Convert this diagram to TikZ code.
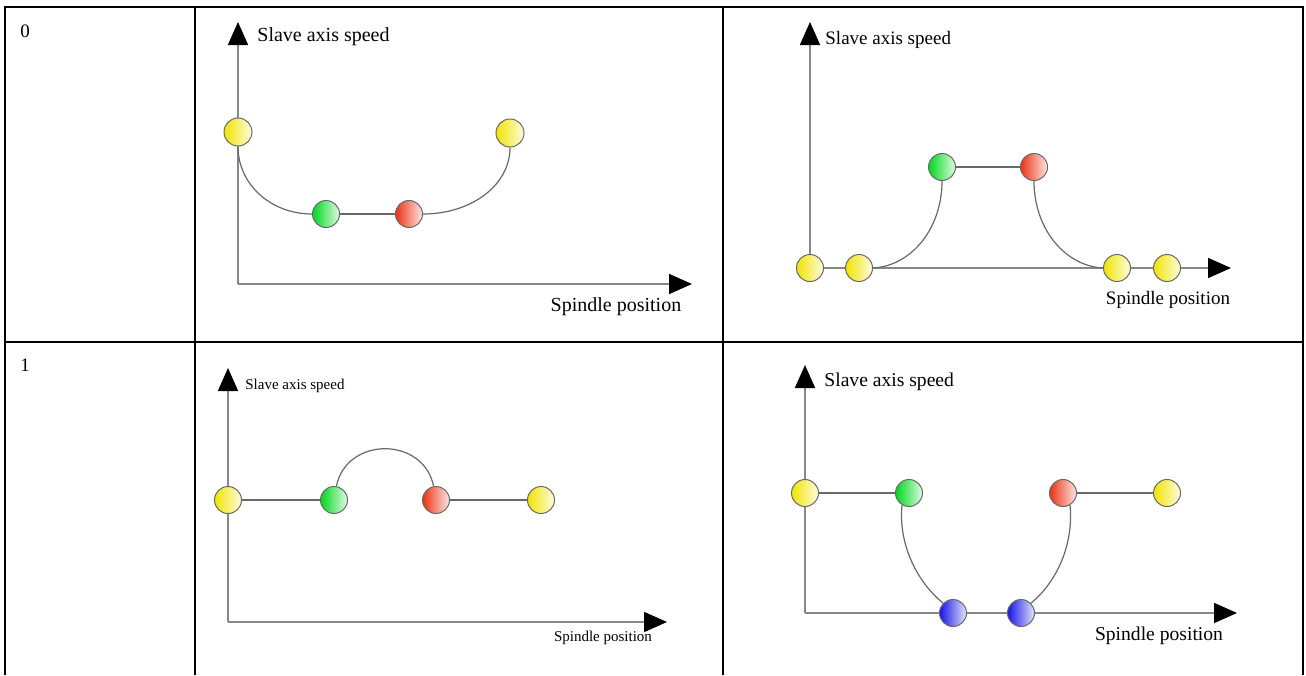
\documentclass[tikz,border=0pt]{standalone}
\usepackage{fontspec}
\setmainfont{Liberation Serif}
\usetikzlibrary{arrows.meta}
\definecolor{BallYellow}{RGB}{240,228,0}
\definecolor{BallGreen}{RGB}{0,215,30}
\definecolor{BallRed}{RGB}{235,50,20}
\definecolor{BallBlue}{RGB}{20,20,230}
\definecolor{AxisGray}{RGB}{135,135,135}
\definecolor{CurveGray}{RGB}{105,105,105}

\begin{document}
\begin{tikzpicture}[x=.5pt,y=-.5pt,
    ball/.style={circle,draw=CurveGray,line width=.5pt,minimum size=13.5pt,
      inner sep=0pt,left color=#1,right color=#1!12},
    axis/.style={AxisGray,line width=.8pt,
      -{Triangle[length=11.5pt,width=10pt,color=black]}},
    link/.style={CurveGray,line width=.6pt},
    lbl/.style={inner sep=0pt,font=\fontsize{#1}{#1}\selectfont},
    grid/.style={black,line width=1.3pt}]
  \useasboundingbox (0,0) rectangle (1306,675);
  % table
  \draw[grid] (5,675) -- (5,7) -- (1303,7) -- (1303,675);
  \draw[grid] (5,342) -- (1303,342);
  \draw[grid] (195,7) -- (195,675);
  \draw[grid] (723,7) -- (723,675);
  \node[lbl=9.5,anchor=west] (row0) at (20,31) {0};
  \node[lbl=9.5,anchor=west] (row1) at (20,365) {1};

  % mode 0, left
  \coordinate (ao) at (238,284);
  \coordinate (aytip) at (238,22);
  \coordinate (axtip) at (692,284);
  \draw[axis] (ao) -- (aytip);
  \draw[axis] (ao) -- (axtip);
  \node[ball=BallYellow,minimum size=14pt] (ay1) at (238,132) {};
  \node[ball=BallGreen] (ag) at (326,214) {};
  \node[ball=BallRed] (ar) at (409,214) {};
  \node[ball=BallYellow,minimum size=14pt] (ay2) at (510,133) {};
  \draw[link] (ay1.south) .. controls +(0,38) and +(-41,0) .. (ag.west);
  \draw[link] (ag) -- (ar);
  \draw[link] (ar.east) .. controls +(48,0) and +(0,38) .. (ay2.south);
  \node[lbl=10,anchor=west] (aylab) at (257,37) {Slave axis speed};
  \node[lbl=10] (axlab) at (616,307) {Spindle position};

  % mode 0, right
  \coordinate (bo) at (810,268);
  \coordinate (bytip) at (810,22);
  \coordinate (bxtip) at (1231,268);
  \draw[axis] (bo) -- (bytip);
  \draw[axis] (bo) -- (bxtip);
  \node[ball=BallYellow] (by1) at (810,268) {};
  \node[ball=BallYellow] (by2) at (859,268) {};
  \node[ball=BallYellow] (by3) at (1117,268) {};
  \node[ball=BallYellow] (by4) at (1167,268) {};
  \node[ball=BallGreen] (bg) at (942,167) {};
  \node[ball=BallRed] (br) at (1034,167) {};
  \draw[link] (by2.east) .. controls +(38,-2) and +(0,48) .. (bg.south);
  \draw[link] (bg) -- (br);
  \draw[link] (br.south) .. controls +(0,48) and +(-38,-2) .. (by3.west);
  \node[lbl=9.5,anchor=west] (bylab) at (825,40) {Slave axis speed};
  \node[lbl=9.5] (bxlab) at (1168,300) {Spindle position};

  % mode 1, left
  \coordinate (co) at (228,622);
  \coordinate (cytip) at (228,368);
  \coordinate (cxtip) at (667,622);
  \draw[axis] (co) -- (cytip);
  \draw[axis] (co) -- (cxtip);
  \node[ball=BallYellow] (cy1) at (228,500) {};
  \node[ball=BallGreen] (cg) at (334,500) {};
  \node[ball=BallRed] (cr) at (436,500) {};
  \node[ball=BallYellow] (cy2) at (541,500) {};
  \draw[link] (cy1) -- (cg);
  \draw[link] (cg.80) .. controls +(10,-50) and +(-10,-50) .. (cr.100);
  \draw[link] (cr) -- (cy2);
  \node[lbl=7.5,anchor=west] (cylab) at (245,386) {Slave axis speed};
  \node[lbl=7.5] (cxlab) at (603,638) {Spindle position};

  % mode 1, right
  \coordinate (do) at (805,613);
  \coordinate (dytip) at (805,365);
  \coordinate (dxtip) at (1237,613);
  \draw[axis] (do) -- (dytip);
  \draw[axis] (do) -- (dxtip);
  \node[ball=BallYellow] (dy1) at (805,493) {};
  \node[ball=BallGreen] (dg) at (909,493) {};
  \node[ball=BallRed] (dr) at (1063,493) {};
  \node[ball=BallYellow] (dy2) at (1167,493) {};
  \node[ball=BallBlue] (db1) at (953,613) {};
  \node[ball=BallBlue] (db2) at (1021,613) {};
  \draw[link] (dy1) -- (dg);
  \draw[link] (dg.240) .. controls +(-4,40) and +(-25,-20) .. (db1.135);
  \draw[link] (dr.300) .. controls +(4,40) and +(25,-20) .. (db2.45);
  \draw[link] (dr) -- (dy2);
  \node[lbl=9.8,anchor=west] (dylab) at (824,382) {Slave axis speed};
  \node[lbl=9.8] (dxlab) at (1159,636) {Spindle position};
\end{tikzpicture}
\end{document}
